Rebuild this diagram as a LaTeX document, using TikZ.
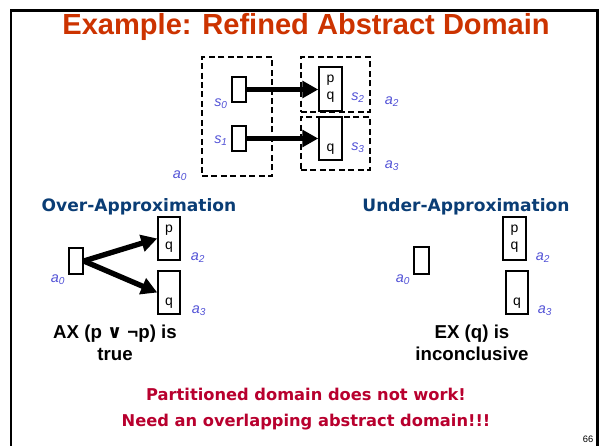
\documentclass[tikz,border=0pt]{standalone}
\usepackage{fontspec}
\setmainfont{Liberation Sans}
\newfontfamily\headfont{DejaVu Sans}
\newfontfamily\symfont{DejaVu Sans}
\usetikzlibrary{arrows.meta}

\definecolor{titlered}{HTML}{CC3300}
\definecolor{headblue}{HTML}{0A3D75}
\definecolor{warnred}{HTML}{B8002E}
\definecolor{lblue}{HTML}{5252D6}

% italic state label with italic subscript
\newcommand\stlbl[2]{\textit{#1}\textsubscript{\textit{#2}}}

\tikzset{
  wh/.style 2 args={minimum width=#1*0.75pt, minimum height=#2*0.75pt},
  dbox/.style={draw, line width=1.2pt, dash pattern=on 4.5pt off 2.6pt, inner sep=0pt},
  sbox/.style={draw, line width=1.1pt, inner sep=0pt, fill=white,
               font=\fontsize{10.5}{13}\selectfont},
  lab/.style={text=lblue, inner sep=0pt, font=\fontsize{10.8}{12}\selectfont},
  bigarrow/.style={line width=4pt, -{Triangle[length=12pt,width=12.5pt]}},
  heading/.style={text=headblue, font=\headfont\bfseries\fontsize{12.8}{15}\selectfont},
  verdict/.style={align=center, font=\bfseries\fontsize{14}{16.5}\selectfont},
  qlabel/.style={label={[anchor=south, inner sep=0pt, yshift=4.5pt,
                 font=\fontsize{10.5}{13}\selectfont]south:q}}
}

\begin{document}
\begin{tikzpicture}[x=0.75pt, y=-0.75pt]
\useasboundingbox (0,0) rectangle (600,446);

% slide frame
\draw[line width=1.6pt] (11,446) -- (11,10.5) -- (597.5,10.5) -- (597.5,446);
\node[font=\fontsize{7}{8}\selectfont\rmfamily, inner sep=0pt] (pagenum) at (588,439) {66};

% title
\node[text=titlered, font=\bfseries\fontsize{21.8}{25}\selectfont] (title) at (306,27) {Example: Refined Abstract Domain};

% refined abstract domain: concrete states and their partitions
\node[dbox, wh={70}{119}] (A0) at (237,116.5) {};
\node[dbox, wh={69}{55}]  (A2) at (335.5,84.5) {};
\node[dbox, wh={69}{53}]  (A3) at (335.5,143.5) {};
\node[sbox, wh={14}{25}]  (S0) at (239,89.5) {};
\node[sbox, wh={14}{25}]  (S1) at (239,138.5) {};
\node[sbox, wh={23}{44}, align=center] (S2) at (330.5,89) {p\\q};
\node[sbox, wh={23}{43}, qlabel] (S3) at (330.5,138.5) {};
\draw[bigarrow] (S0.east) -- (S0.east -| S2.west);
\draw[bigarrow] (S1.east) -- (S1.east -| S3.west);

\node[lab] (ls0) at (221,104) {\stlbl{s}{0}};
\node[lab] (ls1) at (221,141) {\stlbl{s}{1}};
\node[lab] (ls2) at (358,98)  {\stlbl{s}{2}};
\node[lab] (ls3) at (358,148) {\stlbl{s}{3}};
\node[lab] (la2) at (392,102) {\stlbl{a}{2}};
\node[lab] (la3) at (392,166) {\stlbl{a}{3}};
\node[lab] (la0) at (180,176) {\stlbl{a}{0}};

% over-approximation
\node[heading] (over) at (139,207) {Over-Approximation};
\node[sbox, wh={14}{26}] (OA0) at (76,261) {};
\node[sbox, wh={22}{43}, align=center] (OA2) at (169,238.5) {p\\q};
\node[sbox, wh={22}{43}, qlabel] (OA3) at (169,292.5) {};
\draw[bigarrow] (OA0.east) -- (OA2.west);
\draw[bigarrow] (OA0.east) -- (OA3.west);
\node[lab] (ola0) at (58,280) {\stlbl{a}{0}};
\node[lab] (ola2) at (198,258) {\stlbl{a}{2}};
\node[lab] (ola3) at (199,311) {\stlbl{a}{3}};
\node[verdict] (axtrue) at (115,343) {AX (p {\symfont\bfseries ∨} ¬p) is\\true};

% under-approximation
\node[heading] (under) at (466,207) {Under-Approximation};
\node[sbox, wh={15}{27}] (UA0) at (421.5,260.5) {};
\node[sbox, wh={23}{43}, align=center] (UA2) at (514.5,238.5) {p\\q};
\node[sbox, wh={22}{43}, qlabel] (UA3) at (517,292.5) {};
\node[lab] (ula0) at (403,280) {\stlbl{a}{0}};
\node[lab] (ula2) at (543,258) {\stlbl{a}{2}};
\node[lab] (ula3) at (545,311) {\stlbl{a}{3}};
\node[verdict] (exinc) at (472,343) {EX (q) is\\inconclusive};

% conclusion
\node[text=warnred, align=center, font=\headfont\bfseries\fontsize{12.2}{19}\selectfont] (concl) at (306,409)
  {Partitioned domain does not work!\\Need an overlapping abstract domain!!!};
\end{tikzpicture}
\end{document}
